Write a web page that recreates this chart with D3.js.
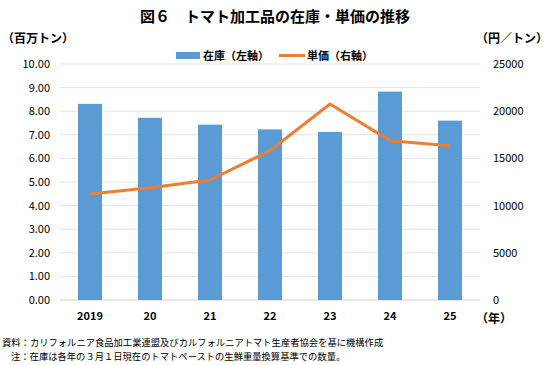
<!DOCTYPE html>
<html><head><meta charset="utf-8">
<script src="https://cdn.jsdelivr.net/npm/d3@7/dist/d3.min.js"></script>
<style>
body{margin:0;background:#fff;}
text{font-family:"Noto Sans CJK JP","Noto Sans",sans-serif;fill:#000;}
</style></head><body>
<svg id="c" width="550" height="365"></svg>
<script>
const categories = ["2019","20","21","22","23","24","25"];
const stock = [8.31, 7.72, 7.43, 7.23, 7.12, 8.83, 7.60];
const price = [11230, 11900, 12710, 15820, 20760, 16880, 16350];
const leftTicks = [0,1,2,3,4,5,6,7,8,9,10];
const rightTicks = [0,5000,10000,15000,20000,25000];

const svg = d3.select("#c");
const W=550,H=365;
const m={l:60,r:70,t:64,b:65};
const x = d3.scaleBand().domain(categories).range([60,480]).paddingInner(0.6).paddingOuter(0.3);
const yL = d3.scaleLinear().domain([0,10]).range([300,64]);
const yR = d3.scaleLinear().domain([0,25000]).range([300,64]);

// title
svg.append("text").attr("x",275).attr("y",22).attr("text-anchor","middle")
  .attr("font-size",15).attr("font-weight","bold").text("図６　トマト加工品の在庫・単価の推移");
svg.append("text").attr("x",2).attr("y",43).attr("font-size",12).attr("font-weight","bold").text("（百万トン）");
svg.append("text").attr("x",548).attr("y",43).attr("text-anchor","end").attr("font-size",12).attr("font-weight","bold").text("（円／トン）");

// gridlines
svg.append("g").selectAll("line").data(leftTicks).join("line")
  .attr("x1",60).attr("x2",480).attr("y1",d=>yL(d)).attr("y2",d=>yL(d))
  .attr("stroke",d=>d===0?"#d0d0d0":"#e3e3e3").attr("stroke-width",1);

// left axis
const gL = svg.append("g").attr("transform","translate(60,0)")
  .call(d3.axisLeft(yL).tickValues(leftTicks).tickFormat(d3.format(".2f")).tickSize(0).tickPadding(10));
gL.select(".domain").remove();
gL.selectAll("text").attr("font-size",11).style("font-family","'Noto Sans CJK JP',sans-serif");

// right axis
const gR = svg.append("g").attr("transform","translate(480,0)")
  .call(d3.axisRight(yR).tickValues(rightTicks).tickFormat(d=>String(d)).tickSize(0).tickPadding(13));
gR.select(".domain").remove();
gR.selectAll("text").attr("font-size",11).style("font-family","'Noto Sans CJK JP',sans-serif");

// x axis
const gX = svg.append("g").attr("transform","translate(0,300)")
  .call(d3.axisBottom(x).tickSize(0).tickPadding(12));
gX.select(".domain").remove();
gX.selectAll("text").attr("font-size",11).attr("font-weight","bold").style("font-family","'Noto Sans CJK JP',sans-serif");
svg.append("text").attr("x",476).attr("y",323).attr("font-size",12).attr("font-weight","bold").text("（年）");

// bars
svg.append("g").selectAll("rect").data(categories).join("rect")
  .attr("x",d=>x(d)).attr("width",x.bandwidth())
  .attr("y",(d,i)=>yL(stock[i])).attr("height",(d,i)=>300-yL(stock[i]))
  .attr("fill","#5b9bd5");

// line
const line = d3.line().x((d,i)=>x(categories[i])+x.bandwidth()/2).y(d=>yR(d));
svg.append("path").datum(price).attr("d",line).attr("fill","none")
  .attr("stroke","#ed7d31").attr("stroke-width",3).attr("stroke-linejoin","round");

// legend
svg.append("rect").attr("x",176).attr("y",52).attr("width",24).attr("height",7).attr("fill","#5b9bd5");
svg.append("text").attr("x",203).attr("y",60).attr("font-size",11).attr("font-weight","bold").text("在庫（左軸）");
svg.append("line").attr("x1",279).attr("x2",305).attr("y1",55.5).attr("y2",55.5).attr("stroke","#ed7d31").attr("stroke-width",3);
svg.append("text").attr("x",307).attr("y",60).attr("font-size",11).attr("font-weight","bold").text("単価（右軸）");

// notes
svg.append("text").attr("x",2).attr("y",346).attr("font-size",9.3).text("資料：カリフォルニア食品加工業連盟及びカルフォルニアトマト生産者協会を基に機構作成");
svg.append("text").attr("x",11).attr("y",360).attr("font-size",9.3).text("注：在庫は各年の３月１日現在のトマトペーストの生鮮重量換算基準での数量。");
</script></body></html>
